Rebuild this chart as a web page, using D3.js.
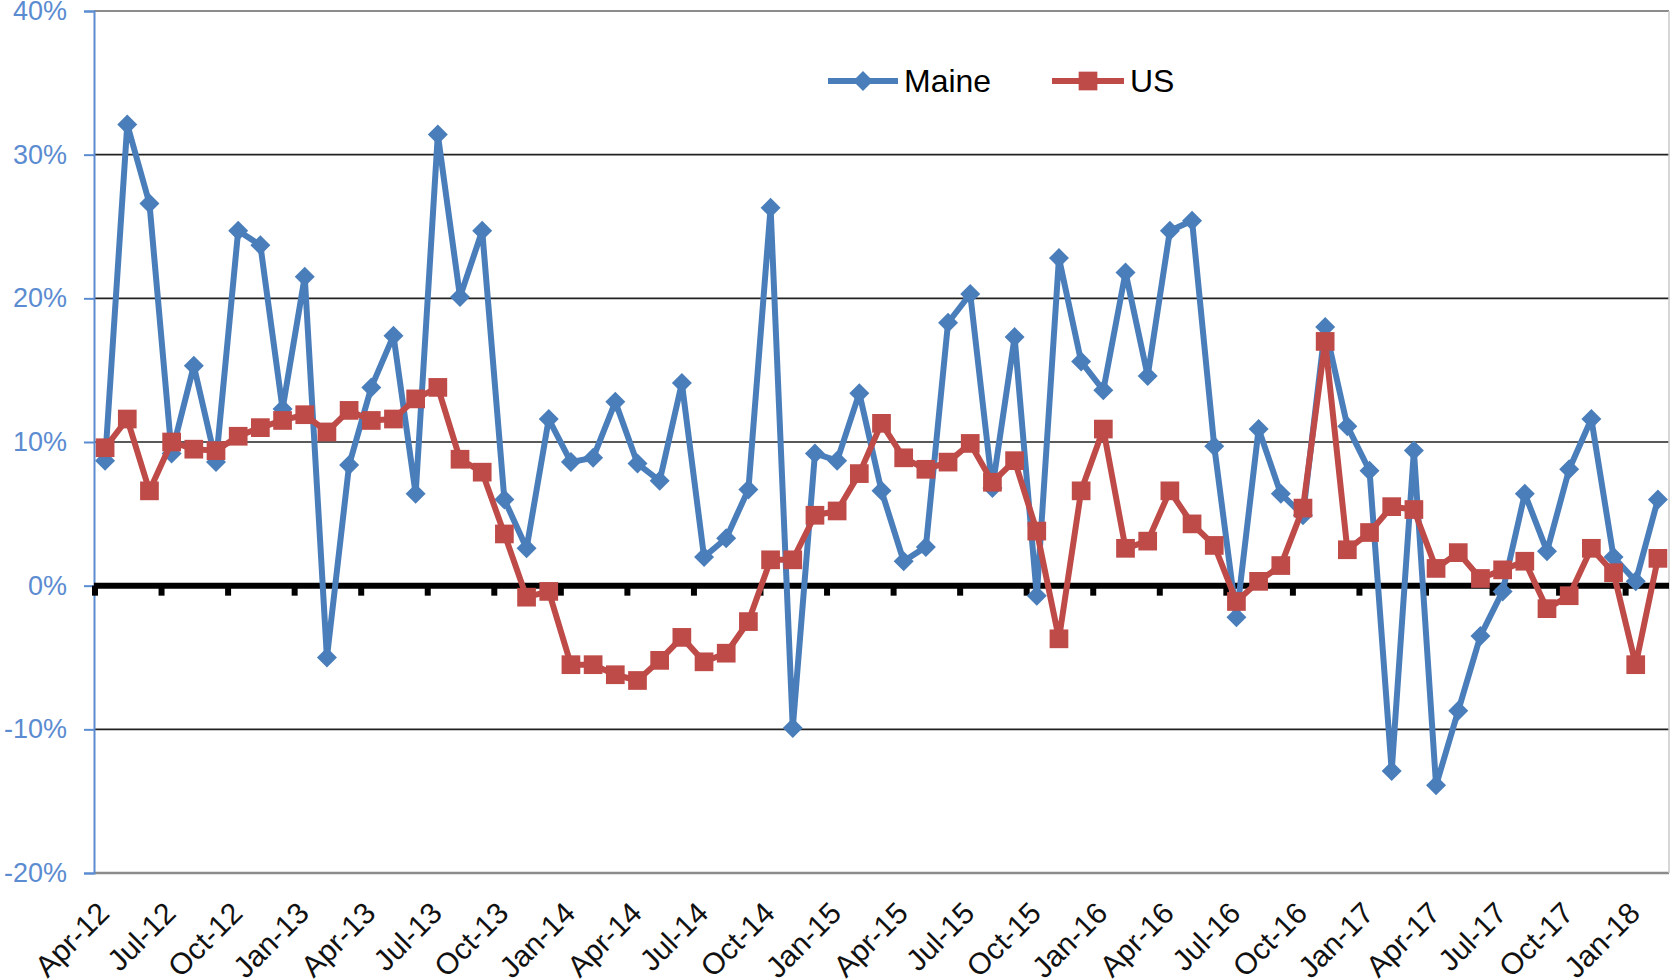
<!DOCTYPE html>
<html>
<head>
<meta charset="utf-8">
<script src="https://cdn.jsdelivr.net/npm/d3@7"></script>
<style>
  body { margin: 0; background: #fff; }
  svg { display: block; font-family: "Liberation Sans", Arial, sans-serif; }
</style>
</head>
<body>
<svg width="1671" height="980"></svg>
<script>
// months, Apr-12 .. Feb-18
const months = [
  "Apr-12","May-12","Jun-12","Jul-12","Aug-12","Sep-12","Oct-12","Nov-12","Dec-12",
  "Jan-13","Feb-13","Mar-13","Apr-13","May-13","Jun-13","Jul-13","Aug-13","Sep-13","Oct-13","Nov-13","Dec-13",
  "Jan-14","Feb-14","Mar-14","Apr-14","May-14","Jun-14","Jul-14","Aug-14","Sep-14","Oct-14","Nov-14","Dec-14",
  "Jan-15","Feb-15","Mar-15","Apr-15","May-15","Jun-15","Jul-15","Aug-15","Sep-15","Oct-15","Nov-15","Dec-15",
  "Jan-16","Feb-16","Mar-16","Apr-16","May-16","Jun-16","Jul-16","Aug-16","Sep-16","Oct-16","Nov-16","Dec-16",
  "Jan-17","Feb-17","Mar-17","Apr-17","May-17","Jun-17","Jul-17","Aug-17","Sep-17","Oct-17","Nov-17","Dec-17",
  "Jan-18","Feb-18"
];

// year over year change, %
const maine = [
  8.7, 32.1, 26.6, 9.2, 15.3, 8.6, 24.7, 23.7, 12.3,
  21.5, -5.0, 8.4, 13.8, 17.4, 6.4, 31.4, 20.1, 24.7, 6.0, 2.6, 11.6,
  8.6, 8.9, 12.8, 8.5, 7.3, 14.1, 2.0, 3.3, 6.7, 26.3, -9.9, 9.2,
  8.7, 13.4, 6.6, 1.7, 2.7, 18.3, 20.3, 6.8, 17.3, -0.7, 22.8, 15.6,
  13.6, 21.8, 14.6, 24.7, 25.4, 9.7, -2.2, 10.9, 6.4, 4.9, 18.0, 11.1,
  8.0, -12.9, 9.4, -13.9, -8.7, -3.5, -0.4, 6.4, 2.4, 8.1, 11.6, 2.0,
  0.3, 6.0
];
const us = [
  9.6, 11.6, 6.6, 10.0, 9.5, 9.4, 10.4, 11.0, 11.5,
  11.9, 10.7, 12.2, 11.5, 11.6, 13.0, 13.8, 8.8, 7.9, 3.6, -0.8, -0.4,
  -5.5, -5.5, -6.2, -6.6, -5.2, -3.6, -5.3, -4.7, -2.5, 1.8, 1.8, 4.9,
  5.2, 7.8, 11.3, 8.9, 8.1, 8.6, 9.9, 7.2, 8.7, 3.8, -3.7, 6.6,
  10.9, 2.6, 3.1, 6.6, 4.3, 2.8, -1.1, 0.3, 1.4, 5.4, 17.0, 2.5,
  3.7, 5.5, 5.3, 1.2, 2.3, 0.5, 1.1, 1.7, -1.6, -0.7, 2.6, 0.9,
  -5.5, 1.9
];

const tickLabels = ["Apr-12","Jul-12","Oct-12","Jan-13","Apr-13","Jul-13","Oct-13","Jan-14",
  "Apr-14","Jul-14","Oct-14","Jan-15","Apr-15","Jul-15","Oct-15","Jan-16","Apr-16","Jul-16",
  "Oct-16","Jan-17","Apr-17","Jul-17","Oct-17","Jan-18"];
const yTicks = [-20, -10, 0, 10, 20, 30, 40];

const blue = "#4a7ebb", red = "#be4b48", axisBlue = "#5b8bd0";
const plotLeft = 94, plotRight = 1669, plotTop = 11, plotBottom = 873;

const svg = d3.select("svg");

const x = d3.scaleBand().domain(months).range([plotLeft, plotRight]);
const y = d3.scaleLinear().domain([-20, 40]).range([plotBottom, plotTop]);
const cx = d => x(d) + x.bandwidth() / 2;

// grid lines
svg.append("g").selectAll("line")
  .data(yTicks.filter(t => t != 0 && t != 40 && t != -20))
  .enter().append("line")
  .attr("x1", plotLeft).attr("x2", plotRight)
  .attr("y1", d => y(d)).attr("y2", d => y(d))
  .attr("stroke", "#222").attr("stroke-width", 1.7);

// plot border
svg.append("path")
  .attr("d", `M${plotLeft},${plotTop}H${plotRight}`)
  .attr("stroke", "#8c8c8c").attr("stroke-width", 2).attr("fill", "none");
svg.append("path")
  .attr("d", `M${plotLeft},${plotBottom}H${plotRight}`)
  .attr("stroke", "#8c8c8c").attr("stroke-width", 2.5).attr("fill", "none");
svg.append("path")
  .attr("d", `M${plotRight},${plotTop}V${plotBottom}`)
  .attr("stroke", "#c8c8c8").attr("stroke-width", 1.5).attr("fill", "none");

// y axis
const yAxis = svg.append("g")
  .attr("transform", `translate(${plotLeft},0)`)
  .call(d3.axisLeft(y).tickValues(yTicks).tickSize(10).tickPadding(17).tickFormat(d => d + "%"));
yAxis.select(".domain").attr("stroke", axisBlue).attr("stroke-width", 2);
yAxis.selectAll(".tick line").attr("stroke", axisBlue).attr("stroke-width", 2);
yAxis.selectAll(".tick text")
  .attr("fill", axisBlue)
  .style("font-size", "27px")
  .style("font-family", "Liberation Sans, Arial, sans-serif");

// zero axis with ticks
const zeroAxis = svg.append("g");
zeroAxis.append("line")
  .attr("x1", plotLeft).attr("x2", plotRight)
  .attr("y1", y(0)).attr("y2", y(0))
  .attr("stroke", "#000").attr("stroke-width", 6);
zeroAxis.selectAll("line.tk")
  .data(tickLabels)
  .enter().append("line")
  .attr("class", "tk")
  .attr("x1", d => x(d) + 1).attr("x2", d => x(d) + 1)
  .attr("y1", y(0)).attr("y2", y(0) + 10)
  .attr("stroke", "#000").attr("stroke-width", 6);

// x labels at bottom
svg.append("g").selectAll("text")
  .data(tickLabels)
  .enter().append("text")
  .attr("transform", d => `translate(${cx(d) + 6},915) rotate(-45)`)
  .attr("text-anchor", "end")
  .attr("fill", "#111")
  .style("font-size", "30px")
  .text(d => d);

// series
const series = [
  { name: "Maine", values: maine, color: blue, symbol: "diamond" },
  { name: "US", values: us, color: red, symbol: "square" }
];

const line = d3.line()
  .x((d, i) => cx(months[i]))
  .y(d => y(d));

const diamond = d3.symbol().type(d3.symbolSquare).size(200);
const square = d3.symbol().type(d3.symbolSquare).size(350);

series.forEach(s => {
  const g = svg.append("g");
  g.append("path")
    .datum(s.values)
    .attr("d", line)
    .attr("fill", "none")
    .attr("stroke", s.color)
    .attr("stroke-width", 6)
    .attr("stroke-linejoin", "round");
  g.selectAll("path.mark")
    .data(s.values)
    .enter().append("path")
    .attr("class", "mark")
    .attr("d", s.symbol == "diamond" ? diamond : square)
    .attr("transform", (d, i) => `translate(${cx(months[i])},${y(d)})` + (s.symbol == "diamond" ? " rotate(45)" : ""))
    .attr("fill", s.color);
});

// legend
const legendItems = [
  { name: "Maine", color: blue, symbol: "diamond", x1: 828, x2: 898 },
  { name: "US", color: red, symbol: "square", x1: 1052, x2: 1124 }
];
const legend = svg.append("g");
legendItems.forEach(l => {
  legend.append("line")
    .attr("x1", l.x1).attr("x2", l.x2).attr("y1", 81).attr("y2", 81)
    .attr("stroke", l.color).attr("stroke-width", 6);
  legend.append("path")
    .attr("d", l.symbol == "diamond" ? diamond : square)
    .attr("transform", `translate(${(l.x1 + l.x2) / 2},81)` + (l.symbol == "diamond" ? " rotate(45)" : ""))
    .attr("fill", l.color);
  legend.append("text")
    .attr("x", l.x2 + 6).attr("y", 92)
    .style("font-size", "32px")
    .attr("fill", "#000")
    .text(l.name);
});
</script>
</body>
</html>
